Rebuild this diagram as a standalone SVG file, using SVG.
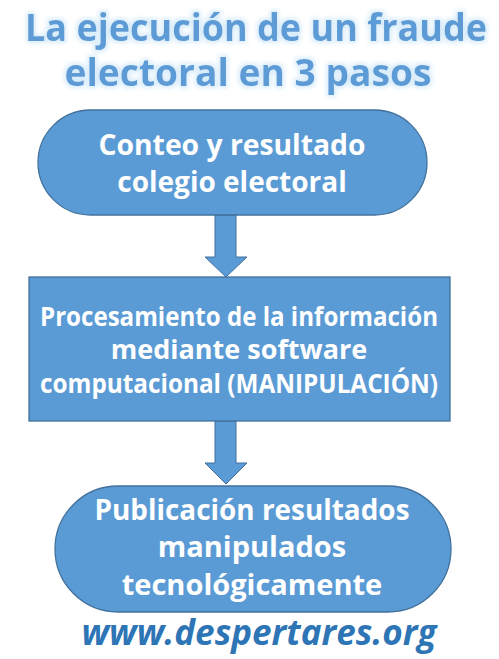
<svg xmlns="http://www.w3.org/2000/svg" width="499" height="659" viewBox="0 0 499 659">
<defs>
<filter id="glow" x="-10%" y="-30%" width="120%" height="160%">
<feMorphology in="SourceAlpha" operator="dilate" radius="2" result="d"/>
<feGaussianBlur in="d" stdDeviation="2" result="b"/>
<feFlood flood-color="#d8ecfa"/>
<feComposite in2="b" operator="in" result="g"/>
<feMerge><feMergeNode in="g"/><feMergeNode in="SourceGraphic"/></feMerge>
</filter>
</defs>
<style>
.shape{fill:#5b9bd5;stroke:#41719c;stroke-width:1.3}
.arrow{fill:#5b9bd5;stroke:#41719c;stroke-width:1}
.t{font-family:"Open Sans","Liberation Sans",sans-serif;font-weight:bold;fill:#ffffff;text-anchor:middle}
.title{font-family:"Open Sans","Liberation Sans",sans-serif;font-weight:bold;fill:#5b9bd5;text-anchor:middle;font-size:37px}
.foot{font-family:"Open Sans","Liberation Sans",sans-serif;font-weight:bold;font-style:italic;fill:#2e75b6;text-anchor:middle;font-size:36px}
</style>
<rect width="499" height="659" fill="#ffffff"/>
<g id="title" filter="url(#glow)">
<text class="title" x="256" y="41" textLength="462" lengthAdjust="spacingAndGlyphs">La ejecución de un fraude</text>
<text class="title" x="248" y="86" textLength="367" lengthAdjust="spacingAndGlyphs">electoral en 3 pasos</text>
</g>
<g id="connectors">
<polygon class="arrow" points="215,215 236,215 236,257 247,257 226,277 205,257 215,257"/>
<polygon class="arrow" points="215,421 236,421 236,463 247,463 226,484 205,463 215,463"/>
</g>
<g id="node1">
<rect class="shape" x="38" y="110" width="389" height="105" rx="52.5" ry="52.5"/>
<text class="t" x="232" y="155" font-size="28" textLength="267" lengthAdjust="spacingAndGlyphs">Conteo y resultado</text>
<text class="t" x="232" y="192" font-size="28">colegio electoral</text>
</g>
<g id="node2">
<rect class="shape" x="29" y="277" width="421" height="144"/>
<text class="t" x="239" y="326" font-size="27" textLength="398" lengthAdjust="spacingAndGlyphs">Procesamiento de la información</text>
<text class="t" x="239" y="359" font-size="27">mediante software</text>
<text class="t" x="239" y="393" font-size="27" textLength="398" lengthAdjust="spacingAndGlyphs">computacional (MANIPULACIÓN)</text>
</g>
<g id="node3">
<rect class="shape" x="55" y="486" width="396" height="126" rx="63" ry="63"/>
<text class="t" x="252" y="520" font-size="29" textLength="315" lengthAdjust="spacingAndGlyphs">Publicación resultados</text>
<text class="t" x="252" y="557" font-size="29">manipulados</text>
<text class="t" x="252" y="595" font-size="29">tecnológicamente</text>
</g>
<g id="footer">
<text class="foot" x="259" y="645" textLength="355" lengthAdjust="spacingAndGlyphs">www.despertares.org</text>
</g>
</svg>
